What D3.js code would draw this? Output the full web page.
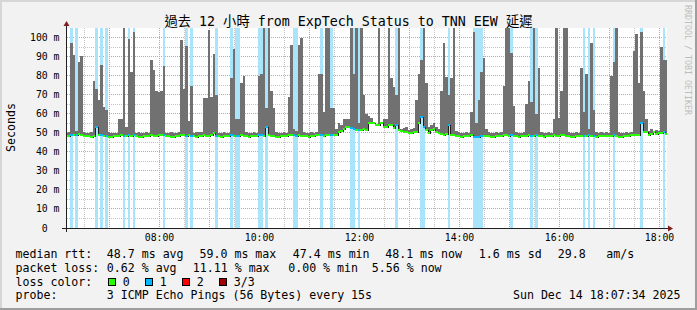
<!DOCTYPE html>
<html>
<head>
<meta charset="utf-8">
<script src="https://cdn.jsdelivr.net/npm/d3@7"></script>
<style>
  html, body { margin: 0; padding: 0; background: #f2f2f2; }
  svg { display: block; }
  text { font-family: "DejaVu Sans Mono", "Noto Sans CJK TC", monospace; fill: #000; white-space: pre; }
</style>
</head>
<body>
<svg id="chart" width="697" height="310"></svg>
<script>
// smokeping 12h view: 3-minute consolidated steps, first step ends at 06:09
const graphStart = new Date(2025, 11, 14, 6, 7, 34);
const graphEnd = new Date(2025, 11, 14, 18, 7, 34);
const firstStepEnd = new Date(2025, 11, 14, 6, 9, 0);
const stepSec = 180;

// top of the smoke (max rtt, ms) per step
const maxRtt = [
  50, 50.5, 97, 91, 51, 87, 90.5, 50.5, 50, 50, 50.5, 77,
  73, 67, 85.5, 63.5, 62, 50.5, 50, 50, 50, 57, 57, 106,
  53, 99, 82, 103, 50, 50.5, 50, 50, 50.5, 50, 88, 83,
  72, 71.5, 72, 85, 50, 50, 50.5, 50, 50, 50.5, 98.5, 73,
  95.5, 56, 74.5, 50, 50.5, 50.5, 50.5, 68, 68, 104, 69, 91.5,
  70, 50, 50, 50.5, 50, 50, 79, 94, 57, 57, 76, 80,
  50.5, 50, 50, 50.5, 50, 80, 81, 106, 63, 106, 72, 63,
  50.5, 50, 50, 50.5, 50, 69, 96, 52, 51, 96, 100, 50.5,
  50, 50, 50.5, 50, 50.5, 81, 81, 61, 106, 106, 63, 63,
  52, 55, 54, 57, 57, 57, 106, 81, 106, 55, 106, 70,
  60, 59, 58, 55.5, 54.5, 106, 53.5, 57, 57, 106, 79, 74,
  70, 106, 52, 52.5, 53, 51.5, 52, 52.5, 67, 81, 88, 106,
  76, 53, 54, 55, 53, 52, 72, 97, 79.5, 70, 79, 106,
  51, 50.5, 50, 50, 50.5, 50, 61, 103, 55, 67, 82, 89,
  52, 50.5, 50, 50, 50.5, 50, 50.5, 74.5, 106, 106, 92, 64,
  50.5, 50, 50, 50.5, 65, 77, 66, 106, 60, 84, 50.5, 50,
  50, 50.5, 50, 57, 106, 58, 72, 106, 106, 50.5, 50, 50,
  50.5, 50, 84, 61, 81, 52, 97, 62, 50.5, 50, 50.5, 50,
  50.5, 50, 80, 87, 106, 50.5, 50, 50, 50.5, 50, 50.5, 93,
  102, 76, 103, 72, 57, 51, 52, 51, 51.5, 51, 95, 88,
  88
];

// median rtt (ms) per step
const medianRtt = [
  48.3, 48.3, 48.6, 48.6, 49, 49.5, 48.6, 48.3, 48.3, 48.3, 48, 48.3,
  53, 48.6, 48.6, 48.3, 48.3, 48, 48, 48.3, 48.3, 48.3, 48.6, 48.3,
  48.3, 48.6, 48.3, 48.6, 48.3, 48, 48, 48.3, 48.3, 48.3, 48.6, 48.3,
  48.3, 48.6, 48.6, 48.6, 48.3, 48.3, 48, 48, 48.3, 48.3, 48.6, 48.6,
  48.3, 48.6, 48.3, 48.3, 48, 48.3, 48.3, 48.6, 48.3, 48.3, 48.6, 50,
  48.3, 48.3, 48, 48.3, 48.3, 48.3, 48.6, 48.3, 48.3, 48.3, 48.6, 48.3,
  48.3, 48, 48.3, 48.3, 48.3, 48.6, 48.6, 48.3, 53, 48.6, 48.3, 48.3,
  48, 48, 48.3, 48.3, 48.3, 48.6, 48.6, 48.6, 48.3, 48.6, 48.3, 48.3,
  48.3, 48, 48.3, 48.3, 48.6, 48.6, 48.6, 48.3, 48.6, 48.6, 49, 49,
  49, 50.5, 51, 52, 53, 53, 52.5, 52, 51.5, 51.5, 51.5, 52,
  51.5, 55, 55, 55, 54, 54, 55, 53, 53, 54, 54, 52.5,
  54, 51.5, 51, 50.5, 50.5, 49.7, 49.7, 50.5, 50.5, 55, 58.5, 53,
  51.5, 50, 51.5, 52, 50.5, 50, 49.5, 49, 49.5, 54, 49, 48.8,
  48.3, 48.3, 48, 48.3, 48.3, 48.3, 48.6, 48, 48, 48, 48.3, 48.3,
  48.3, 48.3, 48, 48, 48.3, 48.3, 48.3, 48.6, 48.6, 48.3, 48.6, 48.3,
  48.3, 48, 48.3, 48.3, 48.3, 48.6, 48.3, 48.3, 48.6, 48.3, 48.3, 48,
  48.3, 48.3, 48.3, 48.6, 48.3, 48.3, 48.6, 48.6, 48.3, 48.3, 48, 48,
  48.3, 48.3, 48.3, 48.3, 48.3, 48.6, 48.3, 48.3, 48, 48.3, 48.3, 48.3,
  48.3, 48.3, 48.3, 48.6, 48.3, 48, 48, 48.3, 48.3, 48.3, 48.6, 49,
  48.6, 48.6, 55, 50.5, 50.5, 48.9, 49.5, 50.5, 49.5, 50, 49.7, 50.5,
  49.5
];

// lost pings per step (0 = none, 1 = one of three)
const lossCount = [
  0, 0, 1, 0, 1, 0, 0, 0, 0, 0, 0, 0,
  1, 0, 1, 0, 1, 0, 0, 0, 0, 0, 0, 1,
  0, 1, 0, 1, 0, 0, 0, 0, 0, 0, 0, 0,
  0, 0, 0, 1, 0, 0, 0, 0, 0, 0, 0, 0,
  1, 0, 1, 0, 0, 0, 0, 0, 0, 0, 0, 0,
  1, 0, 0, 0, 0, 0, 1, 0, 1, 1, 0, 0,
  0, 0, 0, 0, 0, 1, 1, 0, 1, 0, 0, 0,
  0, 0, 0, 0, 0, 0, 0, 1, 1, 0, 0, 0,
  0, 0, 0, 0, 0, 0, 1, 0, 0, 0, 1, 0,
  0, 0, 0, 0, 0, 0, 1, 1, 0, 1, 0, 0,
  0, 0, 0, 0, 0, 0, 0, 0, 0, 0, 0, 0,
  1, 0, 0, 0, 0, 0, 0, 0, 0, 0, 1, 1,
  0, 0, 0, 0, 0, 0, 0, 0, 0, 1, 0, 0,
  0, 0, 0, 0, 0, 0, 0, 1, 1, 1, 1, 0,
  0, 0, 0, 0, 0, 0, 0, 0, 0, 0, 1, 0,
  0, 0, 0, 0, 0, 0, 1, 0, 1, 0, 0, 0,
  0, 0, 0, 0, 0, 0, 0, 0, 0, 0, 0, 0,
  0, 0, 0, 1, 0, 1, 0, 1, 0, 0, 0, 0,
  0, 0, 0, 1, 0, 0, 0, 0, 0, 0, 0, 0,
  0, 0, 1, 0, 0, 0, 0, 0, 0, 0, 0, 1,
  0
];

const yTickValues = [0, 10, 20, 30, 40, 50, 60, 70, 80, 90, 100];
const yTickLabels = ['  0  ', ' 10 m', ' 20 m', ' 30 m', ' 40 m', ' 50 m', ' 60 m', ' 70 m', ' 80 m', ' 90 m', '100 m'];
const xTickLabels = ['08:00', '10:00', '12:00', '14:00', '16:00', '18:00'];

const titleText = '過去 12 小時 from ExpTech Status to TNN EEW 延遲';
const rttLegend = ['median rtt:', '48.7 ms avg', '59.0 ms max', '47.4 ms min', '48.1 ms now', '1.6 ms sd', '29.8', 'am/s'];
const lossLegend = ['packet loss:', '0.62 % avg', '11.11 % max', '0.00 % min', '5.56 % now'];
const lossColorLabels = ['0', '1', '2', '3/3'];
const lossColors = ['#26ff00', '#00b8ff', '#ff0000', '#a10000'];
const probeLegend = ['probe:', '3 ICMP Echo Pings (56 Bytes) every 15s'];
const stampText = 'Sun Dec 14 18:07:34 2025';

const W = 697, H = 310;
const plot = { left: 66, right: 666, top: 28, bottom: 228 };
const svg = d3.select('#chart');

const x = d3.scaleTime([graphStart, graphEnd], [plot.left, plot.right]);
const y = d3.scaleLinear([0, 105], [plot.bottom, plot.top]);
const col = (t) => Math.floor(x(t)) + 1; // first pixel column after time t
const parseHM = d3.timeParse('%Y-%m-%d %H:%M');

const steps = maxRtt.map((m, i) => {
  const t1 = new Date(firstStepEnd.getTime() + i * stepSec * 1000);
  const t0 = new Date(t1.getTime() - stepSec * 1000);
  return {
    x0: Math.max(plot.left + 1, col(t0)),
    x1: Math.min(plot.right + 1, col(t1)),
    max: m, med: medianRtt[i], loss: lossCount[i]
  };
});

// frame
svg.append('rect').attr('width', W).attr('height', H).attr('fill', '#f2f2f2');
svg.append('rect').attr('x', 0).attr('y', 0).attr('width', W).attr('height', 2).attr('fill', '#d6d6d6');
svg.append('rect').attr('x', 0).attr('y', 0).attr('width', 2).attr('height', H).attr('fill', '#d6d6d6');
svg.append('rect').attr('x', 0).attr('y', H - 2).attr('width', W).attr('height', 2).attr('fill', '#9e9e9e');
svg.append('rect').attr('x', W - 2).attr('y', 0).attr('width', 2).attr('height', H).attr('fill', '#9e9e9e');

// canvas
svg.append('rect').attr('x', plot.left).attr('y', plot.top)
  .attr('width', plot.right - plot.left + 1).attr('height', plot.bottom - plot.top).attr('fill', '#fff');

// grid
const grid = svg.append('g').attr('shape-rendering', 'crispEdges').attr('stroke-width', 1).attr('stroke-dasharray', '1,1');
const minorColor = '#c4c4c4', majorColor = '#dc9a9a';
const yMinor = y.ticks(21).filter((v) => v % 10 !== 0 && v < 105);
const yMajor = y.ticks(21).filter((v) => v % 10 === 0 && v > 0 && v < 105);
const gy = (v) => Math.floor(y(v)) + 0.5;
const gx = (t) => Math.floor(x(t)) + 0.5;
grid.selectAll('.ymin').data(yMinor).join('line')
  .attr('x1', plot.left + 1).attr('x2', plot.right + 1).attr('y1', gy).attr('y2', gy).attr('stroke', minorColor);
grid.selectAll('.ymaj').data(yMajor).join('line')
  .attr('x1', plot.left + 1).attr('x2', plot.right + 1).attr('y1', gy).attr('y2', gy).attr('stroke', majorColor);
const halfHours = d3.timeMinute.every(30).range(graphStart, graphEnd).filter((t) => t.getMinutes() === 30);
const hours = d3.timeHour.range(graphStart, graphEnd);
grid.selectAll('.xmin').data(halfHours).join('line')
  .attr('x1', gx).attr('x2', gx).attr('y1', plot.top).attr('y2', plot.bottom).attr('stroke', minorColor);
grid.selectAll('.xmaj').data(hours).join('line')
  .attr('x1', gx).attr('x2', gx).attr('y1', plot.top).attr('y2', plot.bottom).attr('stroke', majorColor);

// data layers
svg.append('clipPath').attr('id', 'plotClip').append('rect')
  .attr('x', plot.left + 1).attr('y', plot.top).attr('width', plot.right - plot.left).attr('height', plot.bottom - plot.top);
const data = svg.append('g').attr('clip-path', 'url(#plotClip)').attr('shape-rendering', 'crispEdges');

data.selectAll('.lossbar').data(steps.filter((d) => d.loss > 0)).join('rect')
  .attr('x', (d) => d.x0).attr('width', (d) => d.x1 - d.x0)
  .attr('y', plot.top).attr('height', plot.bottom - plot.top)
  .attr('fill', '#aae4fb');

data.selectAll('.smoke').data(steps).join('rect')
  .attr('x', (d) => d.x0).attr('width', (d) => d.x1 - d.x0)
  .attr('y', (d) => Math.max(plot.top, Math.round(y(d.max))))
  .attr('height', (d) => Math.max(0, Math.round(y(d.med)) - Math.max(plot.top, Math.round(y(d.max)))))
  .attr('fill', '#717171');

const medPts = steps.map((d) => [d.x0 + 0.5, Math.round(y(d.med)) + 0.5]);
const last = steps[steps.length - 1];
medPts.push([last.x1 + 0.5, Math.round(y(last.med)) + 0.5]);
data.append('path')
  .attr('d', d3.line().curve(d3.curveStepAfter)(medPts))
  .attr('fill', 'none').attr('stroke', '#202020').attr('stroke-width', 1);

data.selectAll('.median').data(steps).join('rect')
  .attr('x', (d) => d.x0).attr('width', (d) => d.x1 - d.x0)
  .attr('y', (d) => Math.round(y(d.med)) - 1).attr('height', 2)
  .attr('fill', (d) => lossColors[d.loss]);

// axes with arrows
const axisG = svg.append('g').attr('shape-rendering', 'crispEdges');
axisG.append('line').attr('x1', plot.left - 4).attr('x2', plot.right + 2)
  .attr('y1', plot.bottom + 0.5).attr('y2', plot.bottom + 0.5).attr('stroke', '#202020');
axisG.append('line').attr('x1', plot.left + 0.5).attr('x2', plot.left + 0.5)
  .attr('y1', plot.bottom + 4).attr('y2', plot.top - 2).attr('stroke', '#202020');
svg.append('path')
  .attr('d', `M${plot.right + 7},${plot.bottom + 0.5}L${plot.right + 2},${plot.bottom - 2.5}L${plot.right + 2},${plot.bottom + 3.5}Z`)
  .attr('fill', '#7f1f1f');
svg.append('path')
  .attr('d', `M${plot.left + 0.5},${plot.top - 7}L${plot.left - 2.5},${plot.top - 2}L${plot.left + 3.5},${plot.top - 2}Z`)
  .attr('fill', '#7f1f1f');

// axis labels
svg.selectAll('.ylab').data(yTickValues).join('text')
  .attr('x', 30).attr('y', (v) => gy(v) + 3.5)
  .attr('font-size', '9.8px').text((v, i) => yTickLabels[i]);
svg.selectAll('.xlab').data(xTickLabels).join('text')
  .attr('x', (s) => gx(parseHM('2025-12-14 ' + s))).attr('y', 241)
  .attr('text-anchor', 'middle').attr('font-size', '9.8px').text((s) => s);

svg.append('text').attr('x', 348.5).attr('y', 25.5).attr('text-anchor', 'middle')
  .attr('font-size', '13.3px').text(titleText);
svg.append('text').attr('transform', 'translate(15,127.5) rotate(-90)').attr('text-anchor', 'middle')
  .attr('font-size', '11.6px').text('Seconds');
svg.append('text').attr('transform', 'translate(685,60) rotate(90)').attr('text-anchor', 'middle')
  .attr('font-size', '8.3px').style('fill', '#bdbdbd').text('RRDTOOL / TOBI OETIKER');

// legend
const legend = svg.append('g').attr('font-size', '11.6px');
const rttX = [15.5, 106.8, 199.5, 292.8, 385.2, 478.8, 557.8, 606.2];
const lossX = [15.5, 106.8, 192.8, 288.2, 371.8];
rttLegend.forEach((s, i) => legend.append('text').attr('x', rttX[i]).attr('y', 258).text(s));
lossLegend.forEach((s, i) => legend.append('text').attr('x', lossX[i]).attr('y', 272).text(s));
legend.append('text').attr('x', 15.5).attr('y', 285.6).text('loss color:');
lossColorLabels.forEach((s, i) => {
  legend.append('rect').attr('x', 108.5 + 37 * i).attr('y', 278.5).attr('width', 7).attr('height', 7)
    .attr('fill', lossColors[i]).attr('stroke', '#000').attr('shape-rendering', 'crispEdges');
  legend.append('text').attr('x', 122.8 + 37 * i).attr('y', 285.6).text(s);
});
legend.append('text').attr('x', 15.5).attr('y', 299.4).text(probeLegend[0]);
legend.append('text').attr('x', 106.8).attr('y', 299.4).text(probeLegend[1]);
legend.append('text').attr('x', 680.5).attr('y', 299.4).attr('text-anchor', 'end').text(stampText);
</script>
</body>
</html>
